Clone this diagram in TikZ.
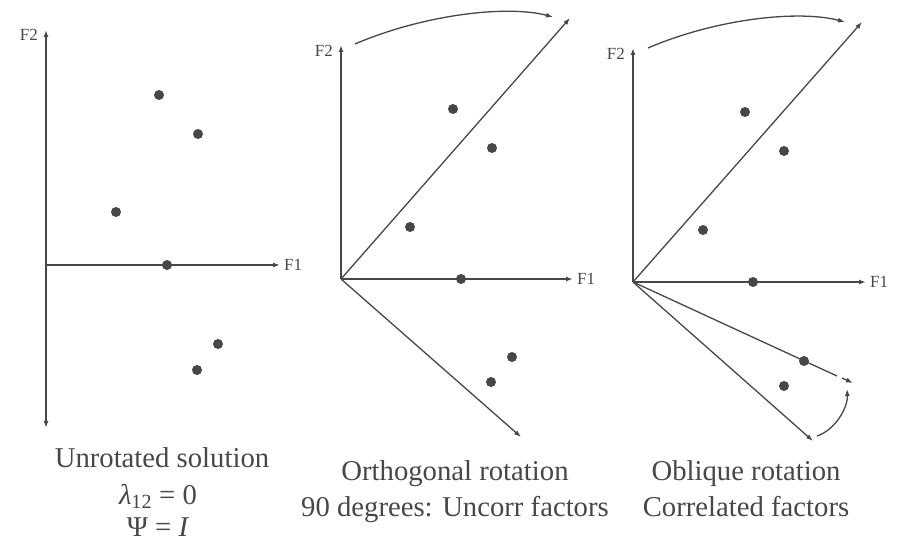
\documentclass[tikz,border=0pt]{standalone}
\usepackage{fontspec}
\setmainfont{Liberation Serif}
\usetikzlibrary{arrows.meta, positioning}
\definecolor{axisgray}{HTML}{474747}

\begin{document}
\begin{tikzpicture}[
    x=1pt, y=-1pt,
    >={Latex[length=7pt,width=5pt]},
    axis/.style={draw=axisgray, line width=1.8pt},
    rot/.style={draw=axisgray, line width=1.3pt},
    dot/.style={circle, fill=axisgray, inner sep=0pt, minimum size=10pt},
    lab/.style={font=\fontsize{17}{20}\selectfont, text=axisgray, inner sep=1pt},
    captext/.style={font=\fontsize{28.7}{34}\selectfont, text=axisgray, anchor=base, inner sep=0pt}
]
\useasboundingbox (0,0) rectangle (898,543);

% unrotated solution
\begin{scope}[shift={(46,265)}]
\coordinate (o1) at (0,0);
\coordinate (t1) at (0,-235);
\coordinate (b1) at (0,163);
\coordinate (r1) at (234,0);
\draw[axis,<->] (b1) -- (t1);
\draw[axis,->] (o1) -- (r1);
\node[lab, left=7pt of t1, yshift=-5pt] (f2a) {F2};
\node[lab, right=3pt of r1] (f1a) {F1};
\foreach \px/\py [count=\i] in {113/-170, 152/-131, 70/-53, 121/0, 172/79, 151/105}
    \node[dot] (d1-\i) at (\px,\py) {};
\end{scope}

% orthogonal rotation
\begin{scope}[shift={(341,279)}]
\coordinate (o2) at (0,0);
\coordinate (t2) at (0,-234);
\coordinate (r2) at (232,0);
\coordinate (u2) at (229,-261);
\coordinate (w2) at (180,158);
\coordinate (s2) at (14,-235);
\coordinate (e2) at (212,-262);
\draw[axis,->] (o2) -- (t2);
\draw[axis,->] (o2) -- (r2);
\draw[rot,->] (o2) -- (u2);
\draw[rot,->] (o2) -- (w2);
\draw[rot,->] (s2) .. controls +(70,-30) and +(-45,-12) .. (e2);
\node[lab, left=7pt of t2, yshift=-6pt] (f2b) {F2};
\node[lab, right=3pt of r2] (f1b) {F1};
\foreach \px/\py [count=\i] in {112/-170, 151/-131, 69/-52, 120/0, 171/78, 150/103}
    \node[dot] (d2-\i) at (\px,\py) {};
\end{scope}

% oblique rotation
\begin{scope}[shift={(633,282)}]
\coordinate (o3) at (0,0);
\coordinate (t3) at (0,-234);
\coordinate (r3) at (233,0);
\coordinate (u3) at (229,-260);
\coordinate (w3) at (180,159);
\coordinate (g3) at (204,94);
\coordinate (h3) at (209,96);
\coordinate (k3) at (220,101);
\coordinate (s3) at (15,-234);
\coordinate (e3) at (212,-260);
\coordinate (m3) at (184,154);
\coordinate (n3) at (214,107);
\draw[axis,->] (o3) -- (t3);
\draw[axis,->] (o3) -- (r3);
\draw[rot,->] (o3) -- (u3);
\draw[rot,->] (o3) -- (w3);
\draw[rot] (o3) -- (g3);
\draw[rot,->] (h3) -- (k3);
\draw[rot,->] (s3) .. controls +(70,-30) and +(-45,-12) .. (e3);
\draw[rot,->] (m3) .. controls +(18,-6) and +(1,19) .. (n3);
\node[lab, left=7pt of t3, yshift=-6pt] (f2c) {F2};
\node[lab, right=3pt of r3] (f1c) {F1};
\foreach \px/\py [count=\i] in {112/-170, 151/-131, 70/-52, 120/0, 171/79, 151/104}
    \node[dot] (d3-\i) at (\px,\py) {};
\end{scope}

% captions
\node[captext] (capa1) at (162,467) {Unrotated solution};
\node[captext] (capa2) at (158,504) {\textit{λ}\textsubscript{12} = 0};
\node[captext] (capa3) at (158,536) {Ψ = \textit{I}};
\node[captext] (capb1) at (455,480) {Orthogonal rotation};
\node[captext] (capb2) at (455,516) {90 degrees: Uncorr factors};
\node[captext] (capc1) at (746,480) {Oblique rotation};
\node[captext] (capc2) at (746,516) {Correlated factors};

\end{tikzpicture}
\end{document}
